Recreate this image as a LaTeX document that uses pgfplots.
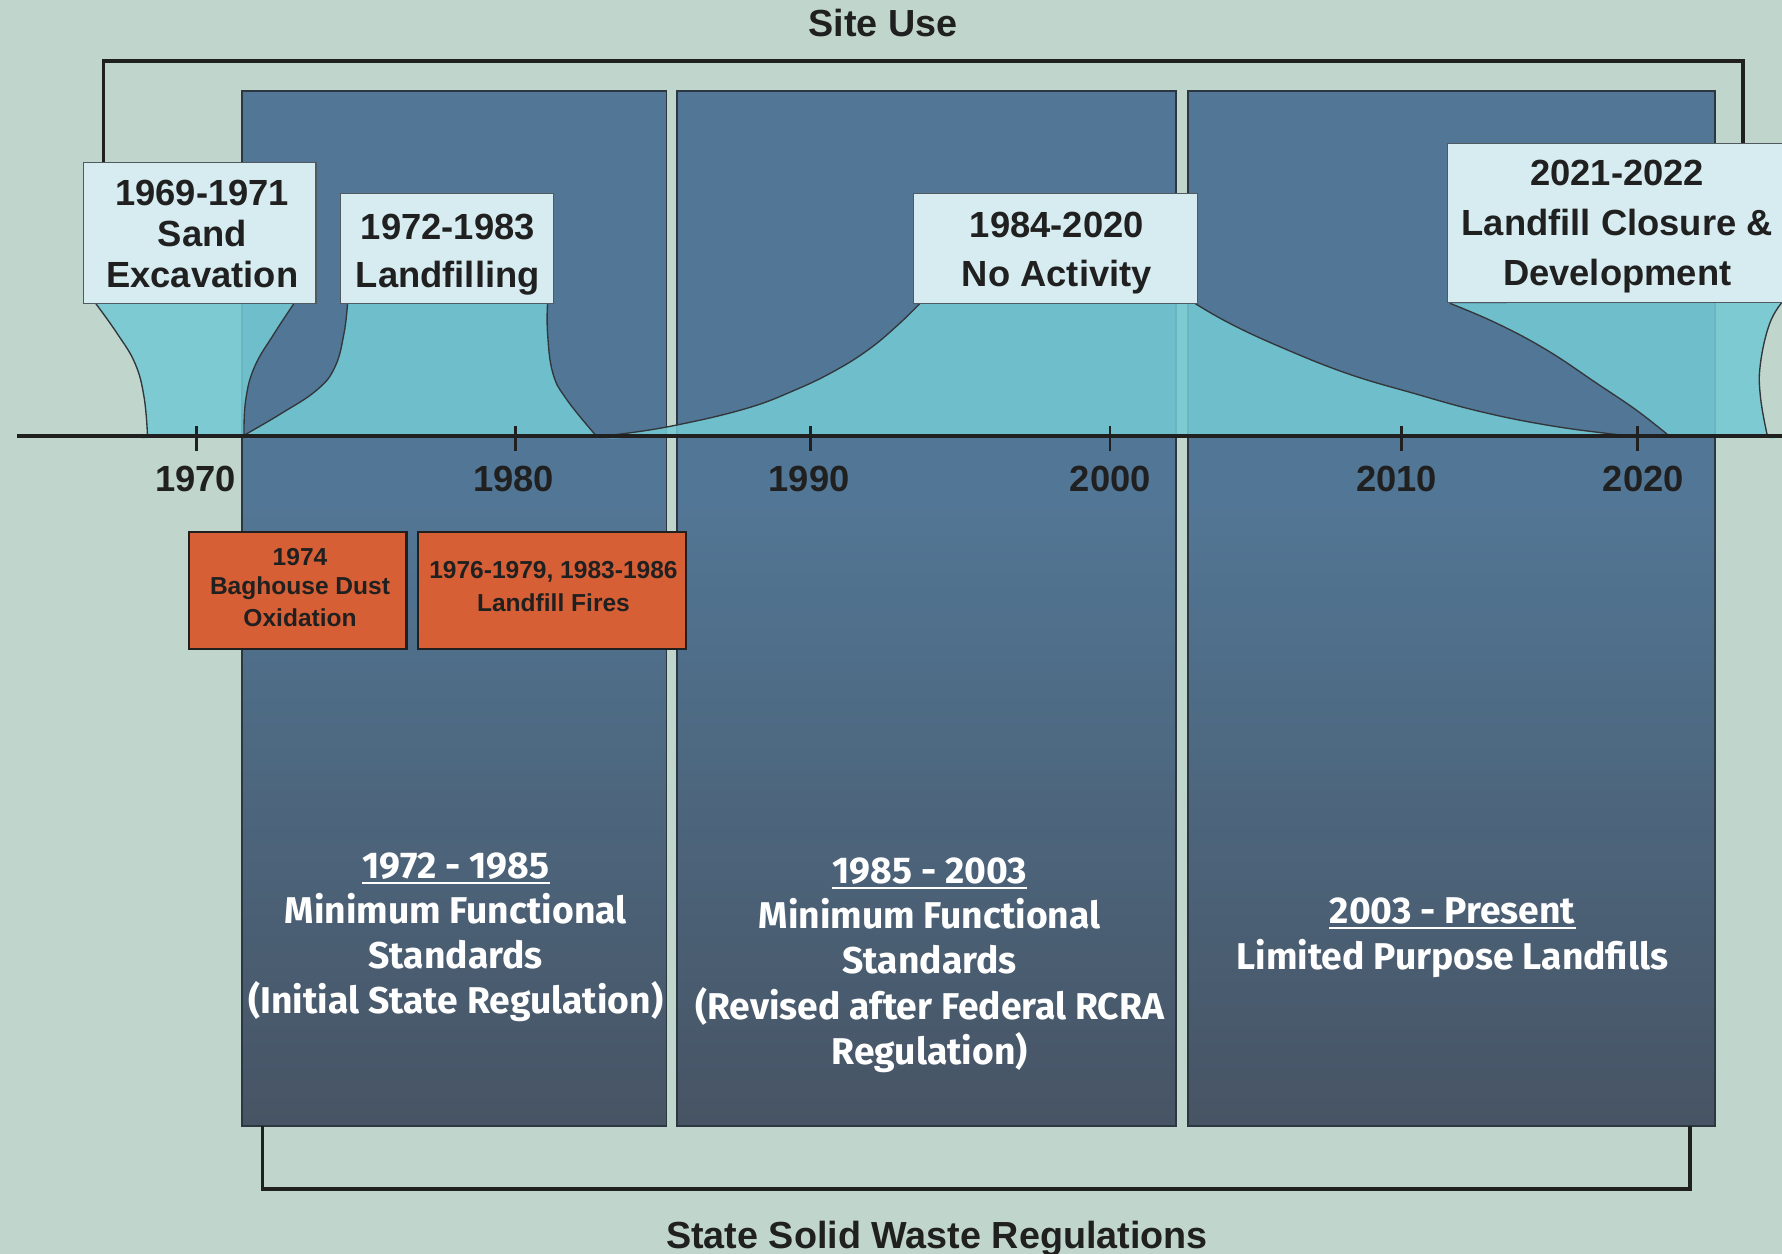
\documentclass[border=0pt]{standalone}
\usepackage{fontspec}
\setmainfont{Liberation Sans}
\newfontfamily\fira{Fira Sans}
\usepackage{pgfplots}
\pgfplotsset{compat=1.18}
\definecolor{bg}{RGB}{192,213,204}
\definecolor{panelTop}{RGB}{82,119,150}
\definecolor{panelBot}{RGB}{71,84,100}
\definecolor{panelEdge}{RGB}{45,55,65}
\definecolor{cyanfill}{RGB}{116,201,212}
\definecolor{boxfill}{RGB}{214,236,240}
\definecolor{boxedge}{RGB}{80,90,95}
\definecolor{orange}{RGB}{214,95,53}
\definecolor{textdark}{RGB}{32,32,32}
\definecolor{curve}{RGB}{50,55,60}
\tikzset{
  lbl/.style={anchor=base, inner sep=0pt, text=textdark, font=\bfseries\fontsize{16}{18}\selectfont},
  ttl/.style={anchor=base, inner sep=0pt, text=textdark, font=\bfseries\fontsize{16.6}{18}\selectfont},
  ptxt/.style={anchor=base, inner sep=0pt, text=white, font=\fira\bfseries\fontsize{16.4}{19}\selectfont},
  otxt/.style={anchor=base, inner sep=0pt, text=textdark, font=\bfseries\fontsize{10.8}{12}\selectfont},
  stream/.style={fill=cyanfill, fill opacity=0.87, draw=none, smooth, tension=0.7},
  edge/.style={draw=curve, line width=0.6pt, smooth, tension=0.7},
}
\begin{document}
\begin{tikzpicture}
\begin{axis}[width=784pt,height=551.5pt,scale only axis,
  xmin=0,xmax=1568,ymin=0,ymax=1103,y dir=reverse,
  axis lines=none,clip=false]

% background
\addplot[fill=bg, draw=none] coordinates {(0,0) (1568,0) (1568,1103) (0,1103)} -- cycle;

% regulation panels
\addplot[fill=panelTop, draw=none] coordinates {(213,80) (586.5,80) (586.5,431) (213,431)} -- cycle;
\addplot[draw=none, top color=panelTop, bottom color=panelBot] coordinates {(213,430) (586.5,430) (586.5,990.8) (213,990.8)} -- cycle;
\addplot[fill=panelTop, draw=none] coordinates {(596,80) (1035,80) (1035,431) (596,431)} -- cycle;
\addplot[draw=none, top color=panelTop, bottom color=panelBot] coordinates {(596,430) (1035,430) (1035,990.8) (596,990.8)} -- cycle;
\addplot[fill=panelTop, draw=none] coordinates {(1045,80) (1509,80) (1509,431) (1045,431)} -- cycle;
\addplot[draw=none, top color=panelTop, bottom color=panelBot] coordinates {(1045,430) (1509,430) (1509,990.8) (1045,990.8)} -- cycle;
\addplot[draw=panelEdge, line width=0.8pt] coordinates {(213,80) (586.5,80) (586.5,990.8) (213,990.8)} -- cycle;
\addplot[draw=panelEdge, line width=0.8pt] coordinates {(596,80) (1035,80) (1035,990.8) (596,990.8)} -- cycle;
\addplot[draw=panelEdge, line width=0.8pt] coordinates {(1045,80) (1509,80) (1509,990.8) (1045,990.8)} -- cycle;

% site-use streams (fills)
\addplot[stream] coordinates {(84.2,267) (103,293.3) (118.8,319.7) (126.7,349) (129.8,383) (129.8,383)
  (214.7,383) (214.7,383) (216.2,352) (224,322.7) (241.4,293.3) (258.7,267)} -- cycle;
\addplot[stream] coordinates {(305.8,267) (302.7,293.3) (294.8,322.7) (279,343) (247.7,363.7) (214.7,383) (214.7,383)
  (524.2,383) (524.2,383) (499,352) (486.5,328.5) (481.8,293.3) (481.8,267)} -- cycle;
\addplot[stream] coordinates {(809.5,267) (790,286) (765,307) (735,326) (700,343) (657,359.3) (595.4,374) (545.5,382) (525,383.4) (525,383.4)
  (1440,383.4) (1440,383.4) (1419.5,382) (1361,374) (1302,362) (1243.6,346) (1185,328.5) (1126,305) (1082,284.5) (1051.5,267)} -- cycle;
\addplot[stream] coordinates {(1276,267) (1317,284.5) (1361,308) (1405,337.3) (1440,361) (1468,383) (1468,383)
  (1555,383) (1555,383) (1549,349) (1549,320) (1557,285) (1568,266)} -- cycle;

% site-use streams (edges)
\addplot[edge] coordinates {(84.2,267) (103,293.3) (118.8,319.7) (126.7,349) (129.8,383)};
\addplot[edge] coordinates {(258.7,267) (241.4,293.3) (224,322.7) (216.2,352) (214.7,383)};
\addplot[edge] coordinates {(305.8,267) (302.7,293.3) (294.8,322.7) (279,343) (247.7,363.7) (214.7,383)};
\addplot[edge] coordinates {(481.8,267) (481.8,293.3) (486.5,328.5) (499,352) (524.2,383)};
\addplot[edge] coordinates {(809.5,267) (790,286) (765,307) (735,326) (700,343) (657,359.3) (595.4,374) (545.5,382) (525,383.4)};
\addplot[edge] coordinates {(1051.5,267) (1082,284.5) (1126,305) (1185,328.5) (1243.6,346) (1302,362) (1361,374) (1419.5,382) (1440,383.4)};
\addplot[edge] coordinates {(1276,267) (1317,284.5) (1361,308) (1405,337.3) (1440,361) (1468,383)};
\addplot[edge] coordinates {(1568,266) (1557,285) (1549,320) (1549,349) (1555,383)};

% timeline
\addplot[draw=textdark, line width=1.5pt] coordinates {(15,383.5) (1568,383.5)};
\addplot[only marks, mark=|, mark size=5.5pt, mark options={draw=textdark, line width=1.3pt}] coordinates {(173,386) (453.7,386) (713,386) (976.7,386) (1233,386) (1441,386)};
\node[lbl] at (axis cs:172,432.7) {1970};
\node[lbl] at (axis cs:452,432.7) {1980};
\node[lbl] at (axis cs:712,432.7) {1990};
\node[lbl] at (axis cs:977,432.7) {2000};
\node[lbl] at (axis cs:1229,432.7) {2010};
\node[lbl] at (axis cs:1446,432.7) {2020};

% brackets
\addplot[draw=textdark, line width=1.5pt, line join=miter] coordinates {(91,143) (91,53.5) (1533.5,53.5) (1533.5,126)};
\addplot[draw=textdark, line width=1.6pt, line join=miter] coordinates {(231,990.8) (231,1046) (1487,1046) (1487,990.8)};
\node[ttl] at (axis cs:777,31.7) {Site Use};
\node[ttl] at (axis cs:824.5,1098.5) {State Solid Waste Regulations};

% site-use label boxes
\addplot[fill=boxfill, draw=boxedge, line width=0.5pt] coordinates {(73.5,143) (278,143) (278,267) (73.5,267)} -- cycle;
\addplot[fill=boxfill, draw=boxedge, line width=0.5pt] coordinates {(299.7,170) (487,170) (487,267) (299.7,267)} -- cycle;
\addplot[fill=boxfill, draw=boxedge, line width=0.5pt] coordinates {(804,170) (1054,170) (1054,267) (804,267)} -- cycle;
\addplot[fill=boxfill, draw=boxedge, line width=0.5pt] coordinates {(1273.6,126) (1575,126) (1575,266) (1273.6,266)} -- cycle;
\node[lbl] at (axis cs:178,180.4) {1969-1971};
\node[lbl] at (axis cs:178,217) {Sand};
\node[lbl] at (axis cs:178,252.8) {Excavation};
\node[lbl] at (axis cs:394,210.4) {1972-1983};
\node[lbl] at (axis cs:394,252.8) {Landfilling};
\node[lbl] at (axis cs:930,208.8) {1984-2020};
\node[lbl] at (axis cs:930,252.2) {No Activity};
\node[lbl] at (axis cs:1423,162.8) {2021-2022};
\node[lbl] at (axis cs:1423,206.8) {Landfill Closure \&};
\node[lbl] at (axis cs:1423,250.8) {Development};

% event boxes
\addplot[fill=orange, draw=textdark, line width=1pt] coordinates {(166.6,467.8) (357.6,467.8) (357.6,571.3) (166.6,571.3)} -- cycle;
\addplot[fill=orange, draw=textdark, line width=1pt] coordinates {(367.7,467.8) (603.4,467.8) (603.4,571.3) (367.7,571.3)} -- cycle;
\node[otxt] at (axis cs:264,497.8) {1974};
\node[otxt] at (axis cs:264,523) {Baghouse Dust};
\node[otxt] at (axis cs:264,551) {Oxidation};
\node[otxt] at (axis cs:487,509) {1976-1979, 1983-1986};
\node[otxt] at (axis cs:487,538) {Landfill Fires};

% regulation texts
\node[ptxt] (u1) at (axis cs:401,773) {1972 - 1985};
\draw[white, line width=0.8pt] ([yshift=-2pt]u1.base west) -- ([yshift=-2pt]u1.base east);
\node[ptxt] at (axis cs:401,812.5) {Minimum Functional};
\node[ptxt] at (axis cs:401,852) {Standards};
\node[ptxt] at (axis cs:401,891.5) {(Initial State Regulation)};

\node[ptxt] (u2) at (axis cs:818,777) {1985 - 2003};
\draw[white, line width=0.8pt] ([yshift=-2pt]u2.base west) -- ([yshift=-2pt]u2.base east);
\node[ptxt] at (axis cs:818,817) {Minimum Functional};
\node[ptxt] at (axis cs:818,857) {Standards};
\node[ptxt] at (axis cs:818,897) {(Revised after Federal RCRA};
\node[ptxt] at (axis cs:818,937) {Regulation)};

\node[ptxt] (u3) at (axis cs:1278,812.5) {2003 - Present};
\draw[white, line width=0.8pt] ([yshift=-2pt]u3.base west) -- ([yshift=-2pt]u3.base east);
\node[ptxt] at (axis cs:1278,853.5) {Limited Purpose Landfills};
\end{axis}
\pgfresetboundingbox
\useasboundingbox (current axis.south west) rectangle (current axis.north east);
\end{tikzpicture}
\end{document}
